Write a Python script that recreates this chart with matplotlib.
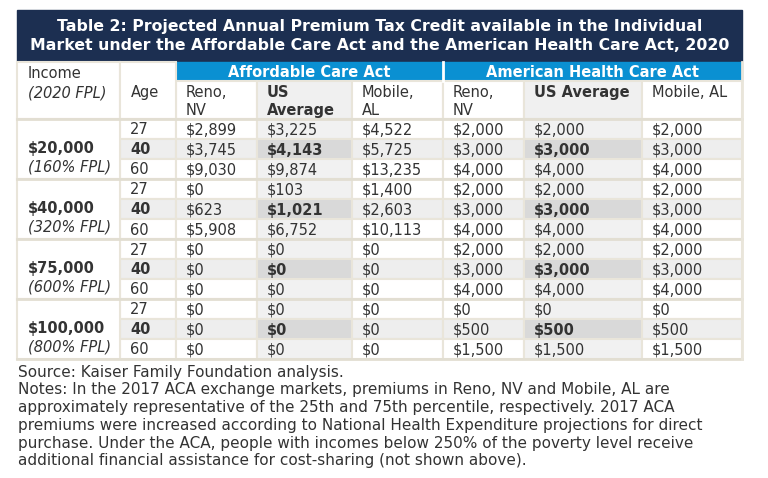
import matplotlib.pyplot as plt
from matplotlib.patches import Rectangle

title_lines = ["Table 2: Projected Annual Premium Tax Credit available in the Individual",
               "Market under the Affordable Care Act and the American Health Care Act, 2020"]
incomes = ["$20,000", "$40,000", "$75,000", "$100,000"]
fpl = ["(160% FPL)", "(320% FPL)", "(600% FPL)", "(800% FPL)"]
ages = [27, 40, 60]
aca_reno = [2899, 3745, 9030, 0, 623, 5908, 0, 0, 0, 0, 0, 0]
aca_us = [3225, 4143, 9874, 103, 1021, 6752, 0, 0, 0, 0, 0, 0]
aca_mobile = [4522, 5725, 13235, 1400, 2603, 10113, 0, 0, 0, 0, 0, 0]
ahca_reno = [2000, 3000, 4000, 2000, 3000, 4000, 2000, 3000, 4000, 0, 500, 1500]
ahca_us = [2000, 3000, 4000, 2000, 3000, 4000, 2000, 3000, 4000, 0, 500, 1500]
ahca_mobile = [2000, 3000, 4000, 2000, 3000, 4000, 2000, 3000, 4000, 0, 500, 1500]
col_headers = ["Reno,\nNV", "US\nAverage", "Mobile,\nAL", "Reno,\nNV", "US Average", "Mobile, AL"]
notes = ["Source: Kaiser Family Foundation analysis.",
         "Notes: In the 2017 ACA exchange markets, premiums in Reno, NV and Mobile, AL are",
         "approximately representative of the 25th and 75th percentile, respectively. 2017 ACA",
         "premiums were increased according to National Health Expenditure projections for direct",
         "purchase. Under the ACA, people with incomes below 250% of the poverty level receive",
         "additional financial assistance for cost-sharing (not shown above)."]

columns = [aca_reno, aca_us, aca_mobile, ahca_reno, ahca_us, ahca_mobile]

navy = "#1c2f51"
blue = "#0a90d2"
line = "#e9e5da"
txt = "#333333"
fs = 10.5

fig = plt.figure(figsize=(7.68, 4.78), dpi=100)
ax = fig.add_axes([0, 0, 1, 1])
ax.set_xlim(0, 768)
ax.set_ylim(478, 0)
ax.axis("off")

xs = [17, 120, 176, 257, 352, 443, 524, 642, 742]
top, h1, h2, rh = 62, 81, 119, 20

# title band
ax.add_patch(Rectangle((17, 10), 725, 51, color=navy))
for i, t in enumerate(title_lines):
    ax.text(379.5, 26 + 19 * i, t, color="white", fontsize=11.3, fontweight="bold",
            ha="center", va="center")

# blue group headers
ax.add_patch(Rectangle((xs[2], top), xs[5] - xs[2], h1 - top, color=blue))
ax.add_patch(Rectangle((xs[5], top), xs[8] - xs[5], h1 - top, color=blue))
ax.plot([xs[5], xs[5]], [top, h1], color="white", lw=2)
ax.text((xs[2] + xs[5]) / 2, 72, "Affordable Care Act", color="white", fontsize=fs,
        fontweight="bold", ha="center", va="center")
ax.text((xs[5] + xs[8]) / 2, 72, "American Health Care Act", color="white", fontsize=fs,
        fontweight="bold", ha="center", va="center")

# header row 2
for j, lab in enumerate(col_headers):
    x0, x1 = xs[j + 2], xs[j + 3]
    us = j in (1, 4)
    ax.add_patch(Rectangle((x0, h1), x1 - x0, h2 - h1, facecolor="#f0f0f0" if us else "white",
                           edgecolor=line, lw=1.5))
    ax.text(x0 + 10, h1 + 4, lab, color=txt, fontsize=fs, fontweight="bold" if us else "normal",
            ha="left", va="top", linespacing=1.25)
ax.add_patch(Rectangle((xs[0], top), xs[1] - xs[0], h2 - top, facecolor="white", edgecolor=line, lw=1.5))
ax.add_patch(Rectangle((xs[1], top), xs[2] - xs[1], h2 - top, facecolor="white", edgecolor=line, lw=1.5))
ax.text(28, 73, "Income", color=txt, fontsize=fs, va="center")
ax.text(28, 93, "(2020 FPL)", color=txt, fontsize=fs, style="italic", va="center")
ax.text(131, 92, "Age", color=txt, fontsize=fs, va="center")

# data rows
for r in range(12):
    y0 = h2 + rh * r
    mid = r % 3 == 1
    ax.add_patch(Rectangle((xs[1], y0), xs[2] - xs[1], rh, facecolor="#eeeeee" if mid else "white",
                           edgecolor=line, lw=1.5))
    ax.text(xs[1] + 10, y0 + rh / 2 + 1, str(ages[r % 3]), color=txt, fontsize=fs,
            fontweight="bold" if mid else "normal", va="center")
    for j, vals in enumerate(columns):
        x0, x1 = xs[j + 2], xs[j + 3]
        us = j in (1, 4)
        if us:
            fc = "#d9d9d9" if mid else "#f1f1f1"
        else:
            fc = "#eeeeee" if mid else "white"
        ax.add_patch(Rectangle((x0, y0), x1 - x0, rh, facecolor=fc, edgecolor=line, lw=1.5))
        ax.text(x0 + 10, y0 + rh / 2 + 1, f"${vals[r]:,}", color=txt, fontsize=fs,
                fontweight="bold" if (us and mid) else "normal", va="center")

# income groups
for g in range(4):
    y0 = h2 + 3 * rh * g
    ax.add_patch(Rectangle((xs[0], y0), xs[1] - xs[0], 3 * rh, facecolor="white", edgecolor=line, lw=1.5))
    ax.text(28, y0 + 29, incomes[g], color=txt, fontsize=fs, fontweight="bold", va="center")
    ax.text(28, y0 + 48, fpl[g], color=txt, fontsize=fs, style="italic", va="center")
    ax.plot([xs[0], xs[8]], [y0, y0], color="#e2ded2", lw=2)
ax.plot([xs[0], xs[8]], [h2 + 12 * rh, h2 + 12 * rh], color="#e2ded2", lw=2)
ax.plot([xs[8], xs[8]], [top, h2 + 12 * rh], color=line, lw=2)

# notes, sized so the longest line ends where it does in the source (~700 px)
note_texts = [ax.text(18, 372 + 17.8 * i, n, color=txt, fontsize=10, va="center")
              for i, n in enumerate(notes)]
renderer = fig.canvas.get_renderer()
w = note_texts[3].get_window_extent(renderer).width
for t in note_texts:
    t.set_fontsize(10 * 682 / w)

fig.savefig("out.png", dpi=100)
